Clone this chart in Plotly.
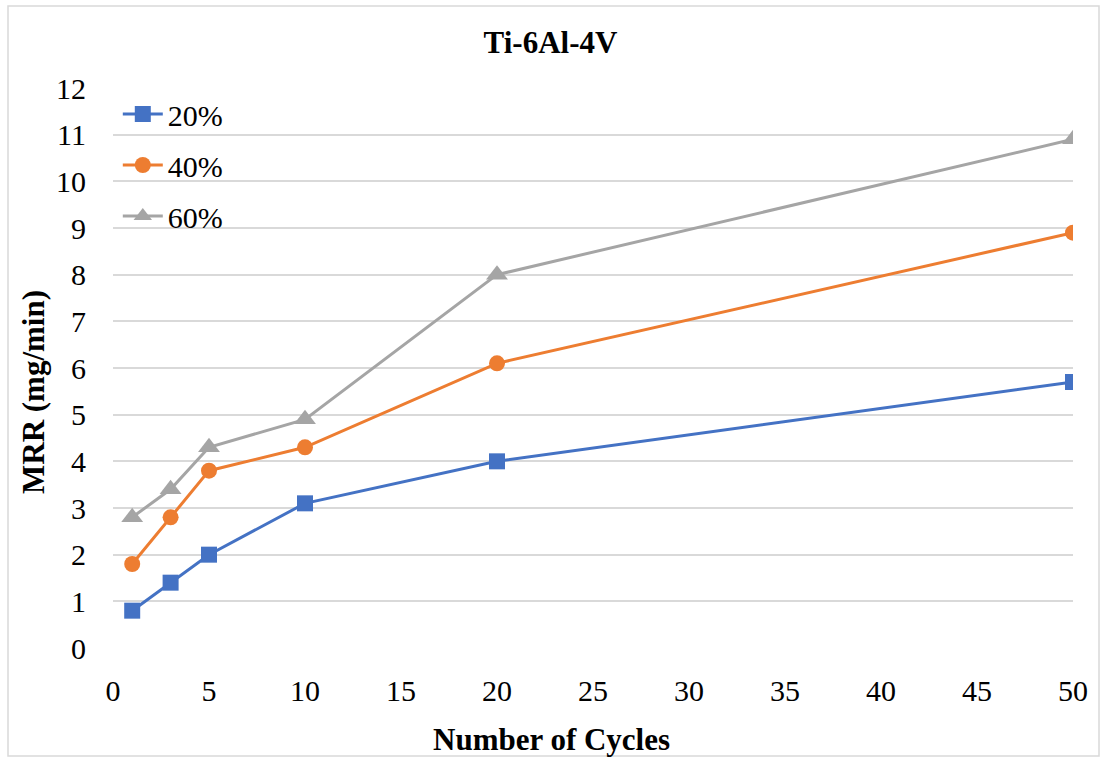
import plotly.graph_objects as go

cycles = [1, 3, 5, 10, 20, 50]
mrr_20 = [0.8, 1.4, 2.0, 3.1, 4.0, 5.7]
mrr_40 = [1.8, 2.8, 3.8, 4.3, 6.1, 8.9]
mrr_60 = [2.8, 3.4, 4.3, 4.9, 8.0, 10.9]
series_names = ["20%", "40%", "60%"]
colors = ["#4472C4", "#ED7D31", "#A5A5A5"]
symbols = ["square", "circle", "triangle-up"]
marker_sizes = [16, 16, 19]

FONT = "Liberation Serif"

fig = go.Figure()
for name, ys, c, s, ms in zip(series_names, [mrr_20, mrr_40, mrr_60], colors, symbols, marker_sizes):
    fig.add_trace(go.Scatter(
        x=cycles, y=ys, name=name, mode="lines+markers",
        line=dict(color=c, width=3),
        marker=dict(symbol=s, size=ms, color=c),
        legendgroup=name,
    ))

fig.update_layout(
    width=1101, height=758,
    margin=dict(l=113, r=28, t=88, b=110),
    paper_bgcolor="white", plot_bgcolor="white",
    font=dict(family=FONT, size=30, color="black"),
    title=dict(text="<b>Ti-6Al-4V</b>", x=0.5, xanchor="center", y=0.945, yanchor="middle",
               font=dict(size=31, family=FONT, color="black")),
    xaxis=dict(range=[0, 50], tickvals=list(range(0, 55, 5)), showgrid=False, zeroline=False,
               showline=False, ticks="", tickfont=dict(size=30, family=FONT, color="black"),
               ticklabelstandoff=22),
    yaxis=dict(range=[0, 12], dtick=1, showgrid=True, gridcolor="#D9D9D9", gridwidth=1.5,
               zeroline=False, showline=False, ticks="", tickfont=dict(size=30, family=FONT, color="black"),
               ticklabelstandoff=26),
    legend=dict(x=0.005, y=1.0, xanchor="left", yanchor="top", bgcolor="rgba(0,0,0,0)",
                font=dict(size=30, family=FONT, color="black"), tracegroupgap=9, itemwidth=40),
    showlegend=True,
)
fig.add_annotation(text="<b>Number of Cycles</b>", xref="paper", yref="paper",
                   x=(551 - 113) / 960, y=(648 - 739) / 560, xanchor="center", yanchor="middle",
                   showarrow=False, font=dict(size=31, family=FONT, color="black"))
fig.add_annotation(text="<b>MRR (mg/min)</b>", xref="paper", yref="paper", textangle=-90,
                   x=(33 - 113) / 960, y=(648 - 392) / 560, xanchor="center", yanchor="middle",
                   showarrow=False, font=dict(size=31, family=FONT, color="black"))
fig.add_shape(type="rect", xref="paper", yref="paper",
              x0=-105/960, x1=1 + 26/960, y0=-108/560, y1=1 + 82/560,
              line=dict(color="#D9D9D9", width=1.5), fillcolor="rgba(0,0,0,0)", layer="below")

fig.write_html("out.html")
